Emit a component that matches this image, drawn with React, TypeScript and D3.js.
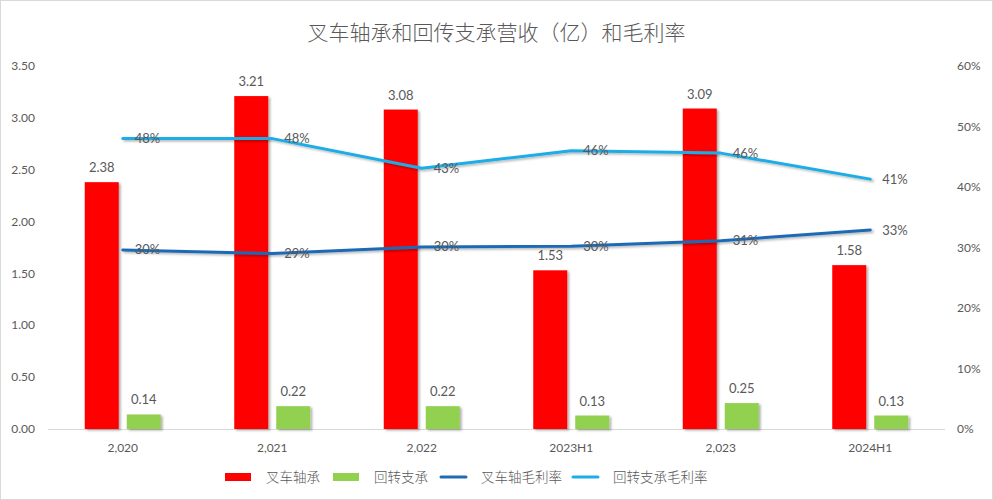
import React from "react";
import * as d3 from "d3";

const categories = ["2,020", "2,021", "2,022", "2023H1", "2,023", "2024H1"];
const forkliftRevenue = [2.38, 3.21, 3.08, 1.53, 3.09, 1.58];
const slewingRevenue = [0.14, 0.22, 0.22, 0.13, 0.25, 0.13];
const forkliftMargin = [0.296, 0.29, 0.301, 0.302, 0.311, 0.329];
const slewingMargin = [0.48, 0.48, 0.431, 0.46, 0.456, 0.413];
const leftTicks = [0, 0.5, 1, 1.5, 2, 2.5, 3, 3.5];
const rightTicks = [0, 0.1, 0.2, 0.3, 0.4, 0.5, 0.6];
const title = "叉车轴承和回传支承营收（亿）和毛利率";
const legendItems = [
  { label: "叉车轴承", type: "rect", color: "#FF0000" },
  { label: "回转支承", type: "rect", color: "#92D050" },
  { label: "叉车轴毛利率", type: "line", color: "#1F6BB5" },
  { label: "回转支承毛利率", type: "line", color: "#1EADE6" },
];

const W = 993;
const H = 500;
const left = 48;
const right = 945;
const top = 66;
const bottom = 429;
const numFont = "Lato, 'Noto Sans', sans-serif";
const cjkFont = "'Noto Sans CJK SC', sans-serif";
const textColor = "#595959";

export default function App() {
  const x = d3.scaleBand<string>().domain(categories).range([left, right]);
  const yL = d3.scaleLinear().domain([0, 3.5]).range([bottom, top]);
  const yR = d3.scaleLinear().domain([0, 0.6]).range([bottom, top]);
  const cx = (i: number) => (x(categories[i]) as number) + x.bandwidth() / 2;
  const barW = 34;
  const gap = 4;
  const line = d3
    .line<number>()
    .x((_, i) => cx(i))
    .y((d) => yR(d));
  const fmtL = d3.format(".2f");
  const fmtP = d3.format(".0%");
  const legendX = [225, 333, 440, 572];

  return (
    <svg
      width={W}
      height={H}
      style={{ position: "absolute", left: 0, top: 0, background: "#fff" }}
    >
      <defs>
        <filter id="sh" x="-20%" y="-20%" width="150%" height="150%">
          <feDropShadow dx="2" dy="1.5" stdDeviation="1.2" floodColor="#000" floodOpacity="0.3" />
        </filter>
      </defs>
      <rect x={0.5} y={0.5} width={W - 1} height={H - 1} fill="#fff" stroke="#d9d9d9" />
      <text
        x={W / 2}
        y={40}
        textAnchor="middle"
        fontFamily={cjkFont}
        fontSize={21}
        fill={textColor}
        fontWeight={300}
      >
        {title}
      </text>

      {/* left axis labels */}
      {leftTicks.map((t) => (
        <text
          key={"l" + t}
          x={35}
          y={yL(t)}
          dy="0.35em"
          textAnchor="end"
          fontFamily={numFont}
          fontSize={12}
          fill={textColor}
        >
          {fmtL(t)}
        </text>
      ))}
      {/* right axis labels */}
      {rightTicks.map((t) => (
        <text
          key={"r" + t}
          x={957}
          y={yR(t)}
          dy="0.35em"
          textAnchor="start"
          fontFamily={numFont}
          fontSize={12}
          fill={textColor}
        >
          {fmtP(t)}
        </text>
      ))}

      {/* x axis line */}
      <line x1={left} x2={right} y1={bottom + 0.5} y2={bottom + 0.5} stroke="#d9d9d9" />
      {categories.map((c, i) => (
        <text
          key={c}
          x={cx(i)}
          y={bottom + 19}
          dy="0.35em"
          textAnchor="middle"
          fontFamily={numFont}
          fontSize={12}
          fill={textColor}
        >
          {c}
        </text>
      ))}

      {/* bars */}
      {forkliftRevenue.map((v, i) => (
        <rect
          key={"fb" + i}
          x={cx(i) - gap - barW}
          y={yL(v)}
          width={barW}
          height={bottom - yL(v)}
          fill="#FF0000"
          filter="url(#sh)"
        />
      ))}
      {slewingRevenue.map((v, i) => (
        <rect
          key={"sb" + i}
          x={cx(i) + gap}
          y={yL(v)}
          width={barW}
          height={bottom - yL(v)}
          fill="#92D050"
          filter="url(#sh)"
        />
      ))}
      {forkliftRevenue.map((v, i) => (
        <text
          key={"fbl" + i}
          x={cx(i) - gap - barW / 2}
          y={yL(v) - 10}
          textAnchor="middle"
          fontFamily={numFont}
          fontSize={13}
          fill={textColor}
        >
          {fmtL(v)}
        </text>
      ))}
      {slewingRevenue.map((v, i) => (
        <text
          key={"sbl" + i}
          x={cx(i) + gap + barW / 2}
          y={yL(v) - 10}
          textAnchor="middle"
          fontFamily={numFont}
          fontSize={13}
          fill={textColor}
        >
          {fmtL(v)}
        </text>
      ))}

      {/* lines */}
      <path
        d={line(slewingMargin) as string}
        fill="none"
        stroke="#1EADE6"
        strokeWidth={3}
        strokeLinecap="round"
        strokeLinejoin="round"
        filter="url(#sh)"
      />
      <path
        d={line(forkliftMargin) as string}
        fill="none"
        stroke="#1F6BB5"
        strokeWidth={3}
        strokeLinecap="round"
        strokeLinejoin="round"
        filter="url(#sh)"
      />
      {slewingMargin.map((v, i) => (
        <text
          key={"sl" + i}
          x={cx(i) + 12}
          y={yR(v)}
          dy="0.35em"
          fontFamily={numFont}
          fontSize={13}
          fill={textColor}
        >
          {fmtP(v)}
        </text>
      ))}
      {forkliftMargin.map((v, i) => (
        <text
          key={"fl" + i}
          x={cx(i) + 12}
          y={yR(v)}
          dy="0.35em"
          fontFamily={numFont}
          fontSize={13}
          fill={textColor}
        >
          {fmtP(v)}
        </text>
      ))}

      {/* legend */}
      {legendItems.map((it, i) =>
        <g key={it.label} transform={`translate(${legendX[i]},477)`}>
          {it.type === "rect" ? (
            <rect x={0} y={-4} width={26} height={8} fill={it.color} />
          ) : (
            <line x1={1} x2={26} y1={0} y2={0} stroke={it.color} strokeWidth={3} strokeLinecap="round" />
          )}
          <text
            x={41}
            y={0}
            dy="0.35em"
            fontFamily={cjkFont}
            fontSize={13.5}
            fill={textColor}
            fontWeight={300}
          >
            {it.label}
          </text>
        </g>
      )}
    </svg>
  );
}
